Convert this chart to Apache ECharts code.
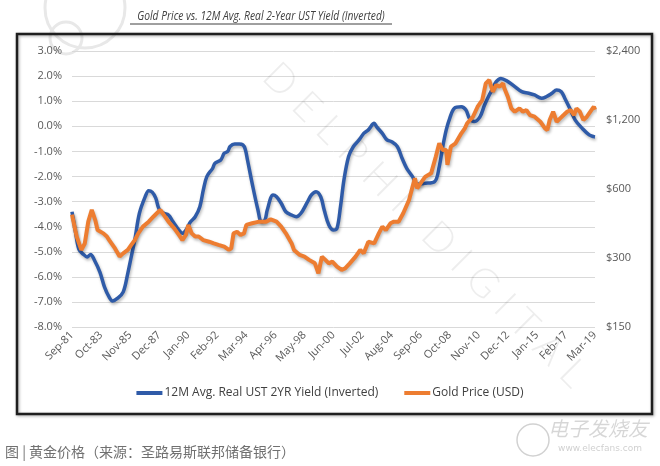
<!DOCTYPE html>
<html><head><meta charset="utf-8">
<script src="https://cdn.jsdelivr.net/npm/echarts@6/dist/echarts.min.js"></script>
<style>html,body{margin:0;padding:0;background:#fff;}#c{width:660px;height:466px;}</style>
</head><body><div id="c"></div>
<script>
// ---- data ----
const xTickLabels = ['Sep-81','Oct-83','Nov-85','Dec-87','Jan-90','Feb-92','Mar-94','Apr-96','May-98','Jun-00','Jul-02','Aug-04','Sep-06','Oct-08','Nov-10','Dec-12','Jan-15','Feb-17','Mar-19'];
const yieldTickLabels = ['-8.0%','-7.0%','-6.0%','-5.0%','-4.0%','-3.0%','-2.0%','-1.0%','0.0%','1.0%','2.0%','3.0%'];
const priceTickLabels = ['$150','$300','$600','$1,200','$2,400'];
const seriesNames = ['12M Avg. Real UST 2YR Yield (Inverted)','Gold Price (USD)'];

// months since Sep-81
const yieldMonths = [0,3,6,10,13,16,19,24,28,32,35,39,44,48,51,54,58,63,66,69,72,75,79,83,87,92,95,98,102,106,110,113,116,121,123,128,131,134,136,140,144,147,149,151,155,160,163,166,168,173,176,180,184,189,193,197,202,206,210,214,217,221,225,228,231,234,238,242,247,251,255,260,262,267,271,275,280,284,288,293,297,303,312,316,319,322,325,329,335,339,342,346,351,355,359,362,365,369,374,381,387,393,398,404,408,413,417,421,424,429,433,439,445,449,450];
const yieldValues = [-3.4,-4.2,-4.9,-5.1,-5.2,-5.1,-5.3,-5.8,-6.4,-6.8,-6.95,-6.85,-6.6,-5.85,-5.19,-4.52,-3.46,-2.8,-2.56,-2.62,-2.85,-3.3,-3.46,-3.53,-3.8,-4.13,-4.26,-4.13,-3.8,-3.6,-3.2,-2.53,-2.0,-1.67,-1.47,-1.34,-1.07,-1.0,-0.8,-0.7,-0.7,-0.74,-0.9,-1.34,-2.27,-3.33,-3.8,-3.73,-3.33,-2.73,-2.8,-3.06,-3.4,-3.53,-3.6,-3.46,-3.06,-2.73,-2.6,-2.8,-3.33,-3.93,-4.13,-4.06,-3.2,-2.13,-1.2,-0.81,-0.54,-0.28,-0.14,0.12,-0.01,-0.28,-0.54,-0.61,-0.81,-1.27,-1.67,-2.0,-2.3,-2.27,-2.2,-1.6,-0.81,-0.14,0.32,0.72,0.78,0.65,0.32,0.19,0.38,0.85,1.25,1.51,1.78,1.91,1.82,1.58,1.38,1.32,1.25,1.12,1.18,1.32,1.45,1.38,1.12,0.65,0.25,-0.08,-0.34,-0.41,-0.42];

const goldMonths = [0,4,8,11,14,17,20,22,27,30,32,37,41,44,48,51,54,57,61,66,70,73,76,79,83,88,92,95,98,100,103,106,109,113,118,122,126,131,135,137,139,142,145,148,150,155,161,167,171,176,180,184,189,191,196,200,204,209,212,215,218,221,224,228,232,235,239,244,248,251,255,260,264,267,270,274,277,281,285,290,293,295,297,300,304,309,313,316,319,322,323,326,330,335,338,340,345,349,353,356,359,362,365,368,371,372,375,378,381,385,388,391,394,398,403,407,409,411,414,417,420,423,426,429,432,434,437,440,443,446,449,450];
const goldPrices = [465,373,326,348,433,487,440,398,385,373,360,331,305,315,326,343,360,385,412,433,455,471,487,463,433,405,379,360,379,419,385,373,373,360,354,348,343,337,326,331,385,391,379,385,419,426,433,433,443,433,412,385,348,326,310,305,295,285,258,305,295,285,290,276,267,271,285,305,326,315,354,348,385,412,398,426,433,433,471,538,615,669,605,637,680,703,831,950,889,889,765,919,950,1051,1105,1162,1241,1372,1467,1735,1794,1595,1706,1680,1735,1650,1517,1350,1305,1350,1305,1327,1262,1241,1180,1105,1086,1201,1305,1180,1221,1262,1305,1327,1262,1350,1305,1201,1241,1305,1372,1330];

const BLUE = '#2f5ba8', ORANGE = '#ed7d31';
const FONT = '"Open Sans", "Liberation Sans", sans-serif';

const chart = echarts.init(document.getElementById('c'), null, {renderer: 'canvas'});
const shadow = {shadowColor: 'rgba(0,0,0,0.28)', shadowBlur: 3, shadowOffsetX: 1, shadowOffsetY: 2};

chart.setOption({
  backgroundColor: '#fff',
  animation: false,
  grid: {left: 72, right: 65, top: 51, bottom: 138.7, containLabel: false},
  legend: {
    data: seriesNames, top: 382, left: 'center', icon: 'rect', itemWidth: 26, itemHeight: 4, itemGap: 26,
    textStyle: {fontFamily: FONT, fontSize: 12, color: '#404040', padding: [0,0,0,-3]}
  },
  xAxis: {
    type: 'value', min: 0, max: 450, interval: 25,
    axisLine: {show: false}, axisTick: {show: false}, splitLine: {show: false},
    axisLabel: {rotate: 45, margin: 6, fontFamily: FONT, fontSize: 11, color: '#595959',
      formatter: v => xTickLabels[Math.round(v / 25)]}
  },
  yAxis: [
    {type: 'value', min: -8, max: 3, interval: 1,
     axisLine: {show: false}, axisTick: {show: false},
     splitLine: {lineStyle: {color: '#d9d9d9', width: 1}},
     axisLabel: {margin: 10, fontFamily: FONT, fontSize: 11, color: '#595959',
       formatter: v => yieldTickLabels[Math.round(v + 8)]}},
    {type: 'log', logBase: 2, min: 150, max: 2400, show: false, position: 'right'},
    {type: 'value', min: 0, max: 4, interval: 1, position: 'right',
     axisLine: {show: false}, axisTick: {show: false}, splitLine: {show: false},
     axisLabel: {margin: 11, fontFamily: FONT, fontSize: 11, color: '#595959',
       formatter: v => priceTickLabels[Math.round(v)]}}
  ],
  series: [
    {name: seriesNames[0], type: 'line', yAxisIndex: 0, showSymbol: false, smooth: 0.35, z: 3,
     lineStyle: Object.assign({color: BLUE, width: 3.5}, shadow), itemStyle: {color: BLUE},
     data: yieldMonths.map((m, i) => [m, yieldValues[i]])},
    {name: seriesNames[1], type: 'line', yAxisIndex: 1, showSymbol: false, z: 4,
     lineStyle: Object.assign({color: ORANGE, width: 4}, shadow), itemStyle: {color: ORANGE},
     data: goldMonths.map((m, i) => [m, goldPrices[i]])}
  ],
  graphic: [
    // Delphi logo arcs (top-left watermark)
    {type: 'circle', z: -10, shape: {cx: 85, cy: 8, r: 40}, style: {fill: 'none', stroke: '#e8e8e8', lineWidth: 3}},
    {type: 'circle', z: -10, shape: {cx: 66, cy: 38, r: 16}, style: {fill: 'none', stroke: '#e8e8e8', lineWidth: 3}},
    // diagonal watermark text
    {type: 'text', z: 1, x: 425, y: 225, rotation: -Math.PI / 4,
     style: {text: 'D E L P H I   D I G I T A L', font: '300 40px Lato, "Open Sans", sans-serif', fill: 'rgba(0,0,0,0.07)', align: 'center', verticalAlign: 'middle'}},
    // chart frame
    {type: 'rect', z: 5, shape: {x: 17, y: 34, width: 635, height: 380},
     style: {fill: 'none', stroke: '#1e1e1e', lineWidth: 2.5, shadowColor: 'rgba(0,0,0,0.35)', shadowBlur: 3, shadowOffsetX: 1, shadowOffsetY: 1}},
    // title
    {type: 'text', z: 5, x: 261, y: 16, scaleX: 0.79,
     style: {text: 'Gold Price vs. 12M Avg. Real 2-Year UST Yield (Inverted)', font: 'italic 13px "Open Sans", "Liberation Sans", sans-serif', fill: '#404040', align: 'center', verticalAlign: 'middle'}},
    {type: 'line', z: 5, shape: {x1: 130, y1: 24, x2: 392, y2: 24}, style: {stroke: '#404040', lineWidth: 1}},
    // caption
    {type: 'text', z: 5, x: 5, y: 452,
     style: {text: '图 | 黄金价格（来源：圣路易斯联邦储备银行）', font: '14px "Noto Sans CJK SC", sans-serif', fill: '#707070', align: 'left', verticalAlign: 'middle'}},
    // elecfans mark
    {type: 'circle', z: 5, shape: {cx: 533, cy: 440, r: 16}, style: {fill: 'none', stroke: 'rgba(0,0,0,0.18)', lineWidth: 1.5}},
    {type: 'text', z: 5, x: 598, y: 428,
     style: {text: '电子发烧友', font: 'italic 20px "Noto Sans CJK SC", sans-serif', fill: 'rgba(0,0,0,0.16)', align: 'center', verticalAlign: 'middle'}},
    {type: 'text', z: 5, x: 600, y: 449,
     style: {text: 'www.elecfans.com', font: '9px "DejaVu Sans", sans-serif', fill: 'rgba(0,0,0,0.2)', align: 'center', verticalAlign: 'middle'}}
  ]
});
</script></body></html>
